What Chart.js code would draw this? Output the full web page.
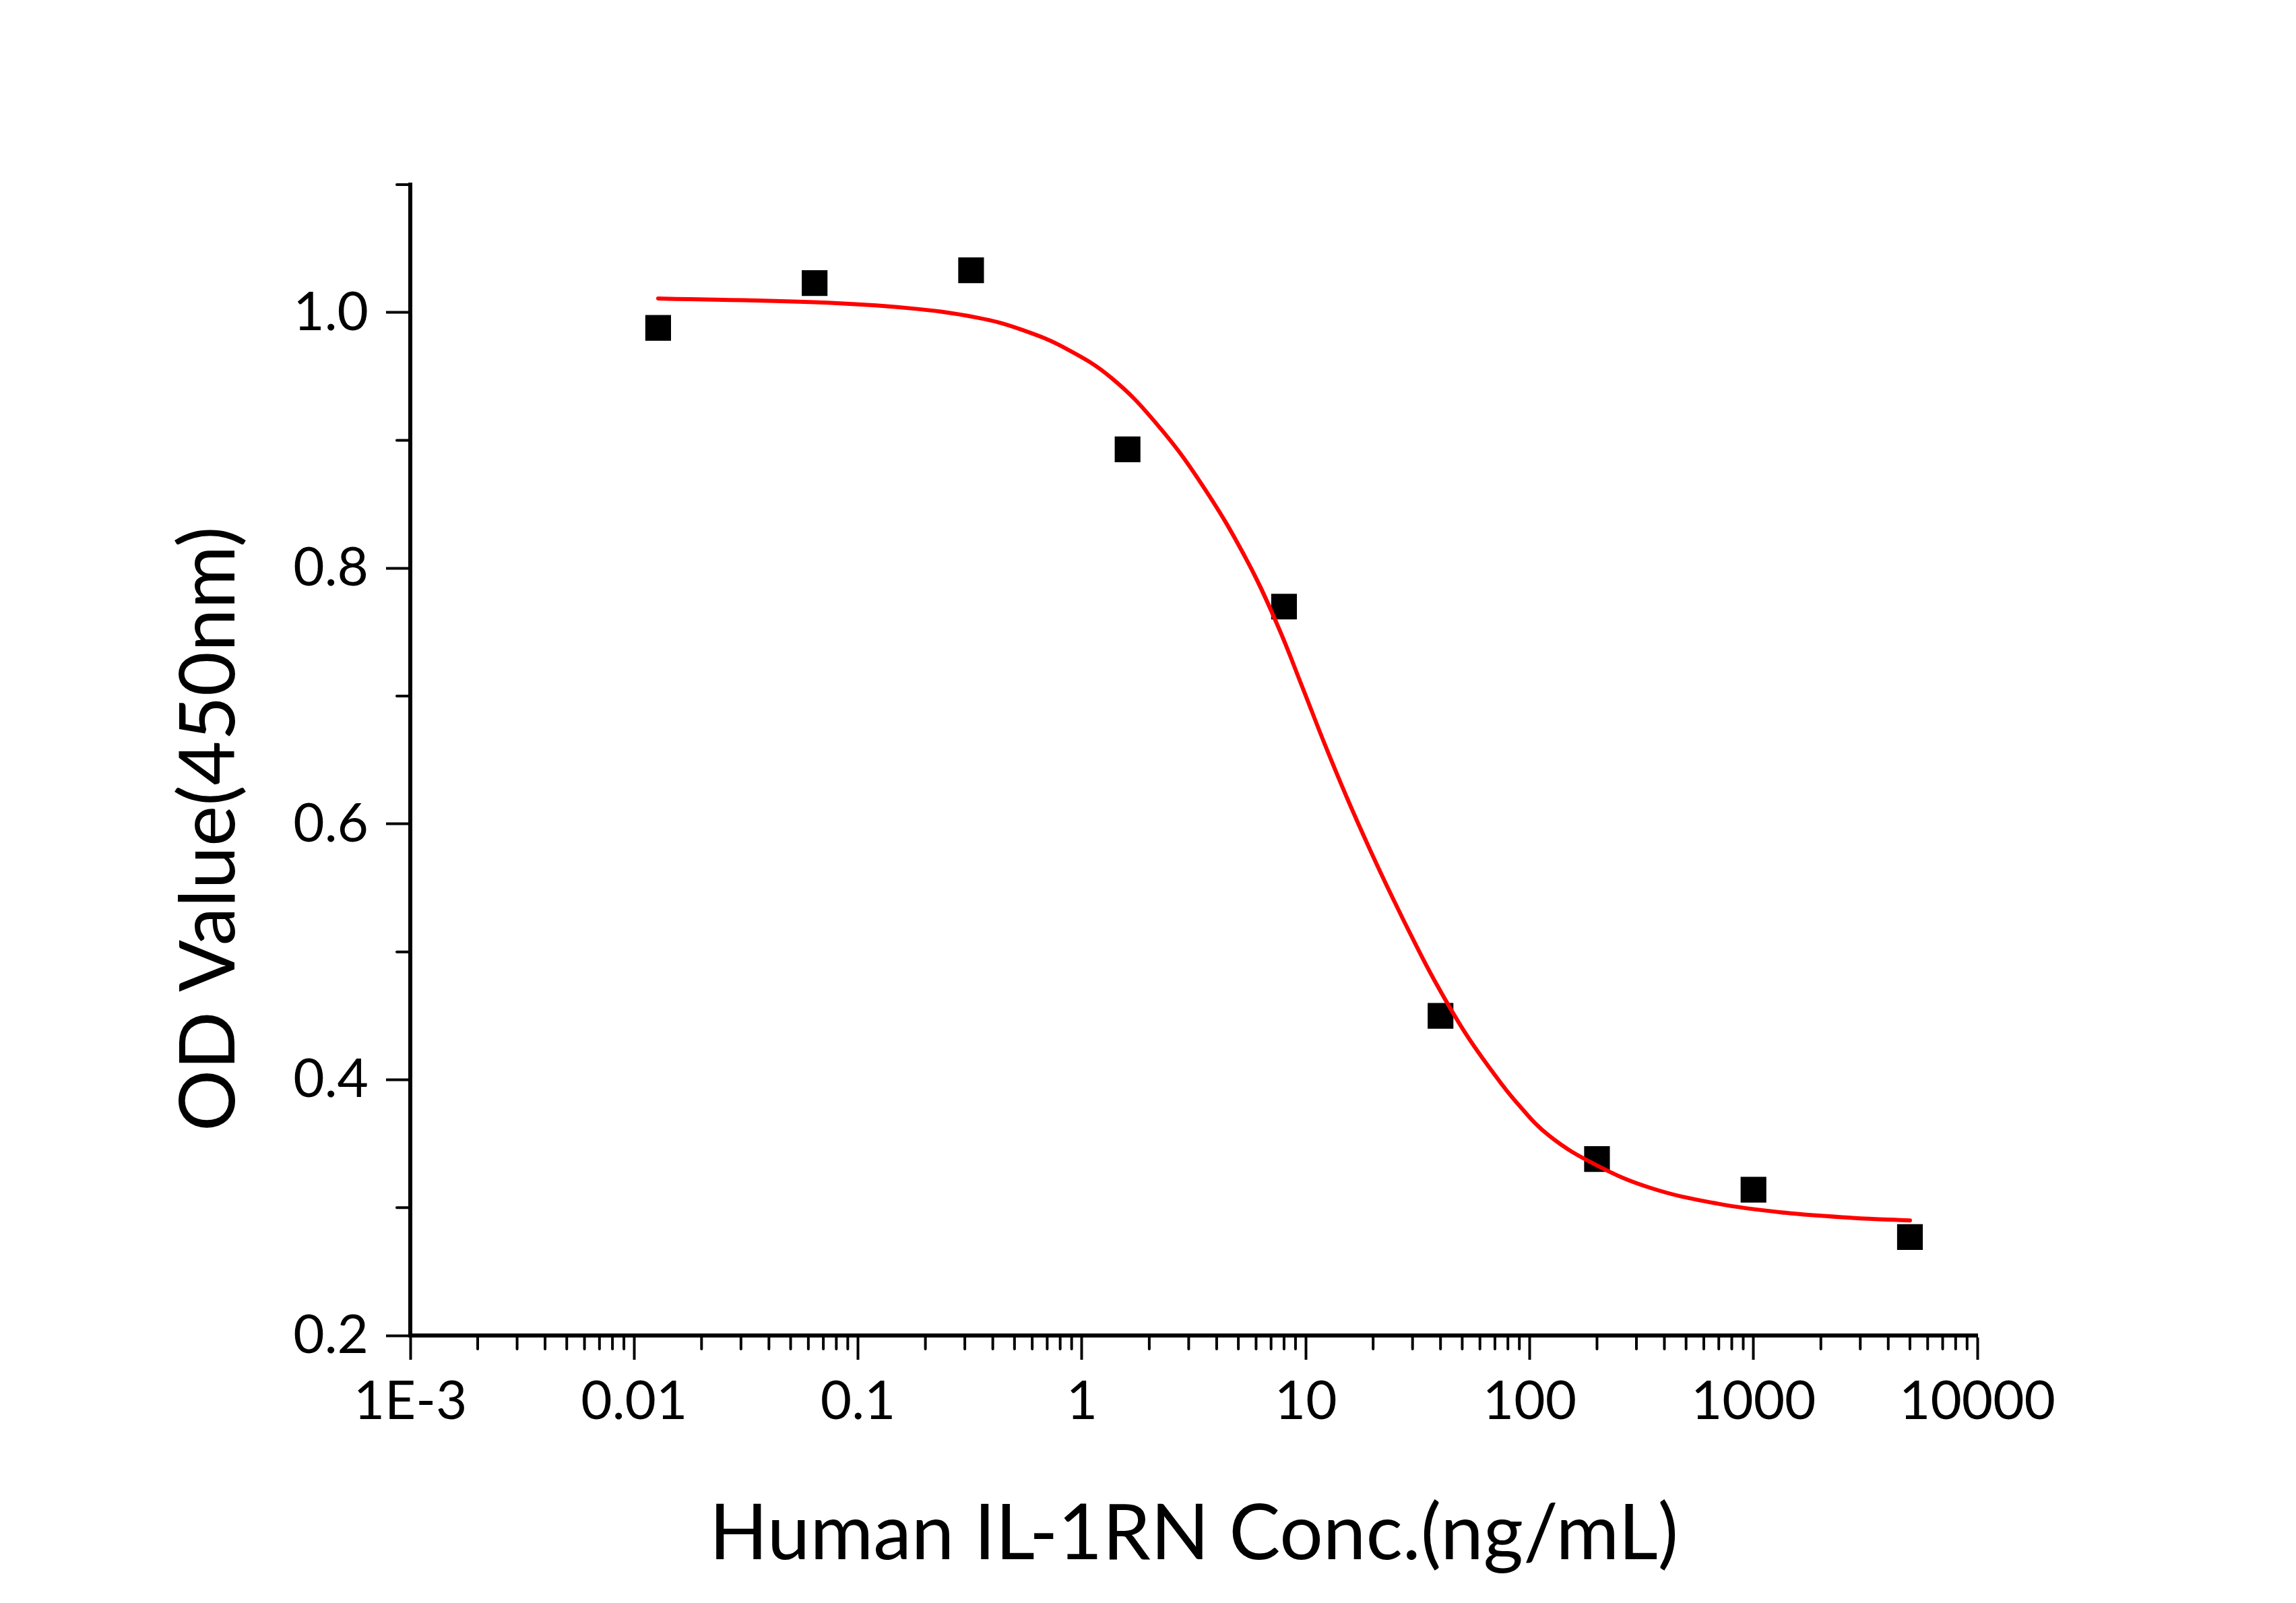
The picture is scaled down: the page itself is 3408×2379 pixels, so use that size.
<!doctype html>
<html lang="en">
 <head>
  <meta charset="UTF-8">
  <title>Human IL-1RN dose response</title>
  <script src="https://cdn.jsdelivr.net/npm/chart.js@4.4.0/dist/chart.umd.min.js"></script>
  <style>
   html, body { margin: 0; padding: 0; background: #fff; }
   #wrap { width: 3408px; height: 2379px; }
  </style>
 </head>
 <body>
  <div id="wrap"><canvas id="chart" width="3408" height="2379"></canvas></div>
  <script>
// measured points (5-fold dilution series)
const concentrations = [0.0128, 0.064, 0.32, 1.6, 8, 40, 200, 1000, 5000];
const odValues = [0.988, 1.023, 1.033, 0.893, 0.770, 0.450, 0.338, 0.314, 0.277];

// fitted curve
const fitConc = [0.0128, 0.064, 0.166, 0.34, 0.539, 0.855, 1.358, 2.155, 3.42, 5.43, 7.5, 9.66, 12.19,
  15.35, 19.3, 24.4, 30.7, 37.5, 51, 68.4, 86.7, 122.7, 200, 346.8, 693, 1386, 2773, 5000];
const fitOD = [1.011, 1.008, 1.0035, 0.996, 0.9865, 0.9715, 0.9487, 0.913, 0.866, 0.807, 0.755, 0.707, 0.6619,
  0.6197, 0.5805, 0.5425, 0.5071, 0.478, 0.438, 0.406, 0.383, 0.356, 0.333, 0.3154, 0.3031, 0.296, 0.292, 0.290];

const xTickValues = [0.001, 0.01, 0.1, 1, 10, 100, 1000, 10000];
const xTickLabels = ['1E-3', '0.01', '0.1', '1', '10', '100', '1000', '10000'];
const yTickValues = [0.2, 0.4, 0.6, 0.8, 1.0];
const yTickLabels = ['0.2', '0.4', '0.6', '0.8', '1.0'];
const yMinorValues = [0.3, 0.5, 0.7, 0.9, 1.1];

const xTitle = 'Human IL-1RN Conc.(ng/mL)';
const yTitle = 'OD Value(450nm)';

// short minor tick marks, placed through the chart's own scales
const minorTicks = {
  id: 'minorTicks',
  afterDraw(chart) {
    const ctx = chart.ctx;
    const xs = chart.scales.x, ys = chart.scales.y;
    ctx.save();
    ctx.strokeStyle = '#000';
    ctx.lineWidth = 4;
    ctx.lineCap = 'round';
    ctx.beginPath();
    for (let d = 0; d < xTickValues.length - 1; d++) {
      for (let m = 2; m <= 9; m++) {
        const px = xs.getPixelForValue(xTickValues[d] * m);
        ctx.moveTo(px, xs.top);
        ctx.lineTo(px, xs.top + 20);
      }
    }
    yMinorValues.forEach(v => {
      const py = ys.getPixelForValue(v);
      ctx.moveTo(ys.right, py);
      ctx.lineTo(ys.right - 20, py);
    });
    ctx.stroke();
    ctx.restore();
  }
};

const tickFont = { family: 'Lato', size: 80 };
const titleFont = { family: 'Lato', size: 114 };

new Chart(document.getElementById('chart'), {
  type: 'scatter',
  data: {
    datasets: [
      {
        label: 'fit',
        data: fitConc.map((c, i) => ({ x: c, y: fitOD[i] })),
        showLine: true,
        borderColor: '#ff0000',
        borderWidth: 6,
        borderCapStyle: 'round',
        borderJoinStyle: 'round',
        tension: 0.4,
        pointRadius: 0
      },
      {
        label: 'OD',
        data: concentrations.map((c, i) => ({ x: c, y: odValues[i] })),
        pointStyle: 'rect',
        pointRadius: 27,
        backgroundColor: '#000',
        borderWidth: 0
      }
    ]
  },
  options: {
    responsive: false,
    devicePixelRatio: 1,
    animation: false,
    layout: { padding: { left: 0, top: 274, right: 473, bottom: 0 } },
    plugins: { legend: { display: false }, tooltip: { enabled: false } },
    scales: {
      x: {
        type: 'logarithmic',
        min: 0.001,
        max: 10000,
        afterBuildTicks: axis => { axis.ticks = xTickValues.map(v => ({ value: v })); },
        afterFit: scale => { scale.height = 397; },
        border: { display: true, color: '#000', width: 6 },
        grid: { drawOnChartArea: false, drawTicks: true, tickLength: 36, tickWidth: 4, tickColor: '#000' },
        ticks: {
          autoSkip: false, maxRotation: 0, color: '#000', font: tickFont, padding: 14,
          callback: (value, index) => xTickLabels[index]
        },
        title: { display: true, text: xTitle, color: '#000', font: titleFont, padding: { top: 0, bottom: 33 } }
      },
      y: {
        min: 0.2,
        max: 1.1,
        afterBuildTicks: axis => { axis.ticks = yTickValues.map(v => ({ value: v })); },
        afterFit: scale => { scale.width = 609; },
        border: { display: true, color: '#000', width: 6 },
        grid: { drawOnChartArea: false, drawTicks: true, tickLength: 36, tickWidth: 4, tickColor: '#000' },
        ticks: {
          color: '#000', font: tickFont, padding: 26,
          callback: (value, index) => yTickLabels[index]
        },
        title: { display: true, text: yTitle + '       ', color: '#000', font: titleFont, padding: { top: 243, bottom: 0 } }
      }
    }
  },
  plugins: [minorTicks]
});
  </script>
 </body>
</html>
